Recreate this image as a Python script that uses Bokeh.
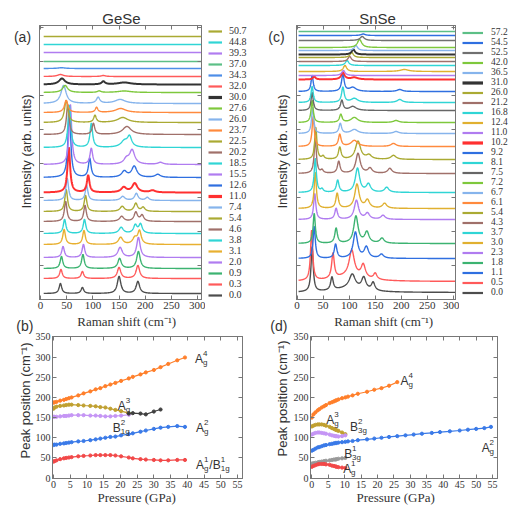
import numpy as np
from bokeh.plotting import figure
from bokeh.layouts import column, row
from bokeh.models import Range1d, Label, Legend, LegendItem, LinearAxis, SingleIntervalTicker
from bokeh.embed import file_html
from bokeh.resources import INLINE

# ======================= DATA =======================
# --- GeSe Raman spectra (bottom -> top), peaks: (position cm-1, height, half-width)
gese_pressure = ["0.0", "0.3", "0.9", "2.0", "3.1", "3.8", "4.6", "5.4", "7.4", "11.0", "12.6", "15.5",
                 "18.5", "20.2", "22.5", "23.7", "26.0", "27.6", "30.0", "32.0", "34.3", "37.0", "39.3",
                 "44.8", "50.7"]
gese_peaks = [
    [(38, 10, 3), (80, 6, 3), (150, 17, 4), (186, 12, 4)],
    [(39, 9, 3), (80, 7, 3), (150, 11, 4), (186, 13, 4)],
    [(40, 12, 3), (81, 14, 3), (151, 10, 4), (187, 17, 4)],
    [(43, 11, 3), (82, 13, 3), (152, 10, 5), (187, 20, 4)],
    [(45, 15, 3), (83, 14, 3), (153, 7, 5), (180, 6, 5), (189, 13, 4)],
    [(46, 14, 3), (84, 14, 3), (154, 6, 5), (181, 8, 4), (191, 9, 4)],
    [(48, 20, 3), (85, 16, 3), (155, 5, 5), (182, 9, 4), (194, 6, 4)],
    [(49, 22, 3), (86, 16, 3), (156, 5, 5), (182, 8, 4), (196, 4, 4)],
    [(51, 22, 3), (88, 15, 3), (157, 4, 5), (183, 7, 4), (204, 3, 4)],
    [(54, 45, 3), (91, 17, 3), (159, 5, 6), (180, 9, 6), (214, 2, 6)],
    [(55, 70, 3), (94, 19, 3), (160, 6, 6), (179, 11, 6), (224, 3, 6)],
    [(57, 60, 3), (97, 16, 3), (164, 5, 6), (175, 14, 6), (229, 2, 6)],
    [(55, 42, 3), (97, 24, 3), (160, 6, 8), (170, 10, 5)],
    [(52, 30, 3), (101, 11, 3), (165, 8, 10)],
    [(49, 22, 4), (104, 7, 3), (157, 5, 12)],
    [(49, 12, 4), (107, 5, 3), (153, 4, 12)],
    [(44, 18, 6), (110, 6, 4), (152, 4, 12)],
    [(47, 7, 6), (112, 1.5, 4), (160, 1.5, 15)],
    [(41, 6, 7), (120, 3, 4), (160, 2, 15)],
    [(38, 2, 7), (120, 1, 5)],
    [(40, 0.8, 8)],
    [], [], [], [],
]

# --- SnSe Raman spectra (bottom -> top)
snse_pressure = ["0.0", "0.5", "1.1", "1.8", "2.3", "3.0", "3.7", "4.3", "5.4", "6.1", "6.7", "7.2", "7.5",
                 "8.1", "9.2", "10.2", "11.0", "12.4", "16.8", "21.2", "26.0", "31.0", "36.5", "42.0",
                 "52.5", "54.5", "57.2"]
snse_peaks = [
    [(29, 45, 2.5), (67, 13, 3), (106, 14, 7), (128, 12, 5), (146, 8, 4), (100, 4, 35)],
    [(28, 50, 2.5), (69, 25, 3), (105, 26, 6), (127, 13, 5), (150, 6, 4), (100, 5, 35)],
    [(33, 32, 2.5), (74, 14, 3), (112, 26, 5), (133, 11, 5), (162, 4, 5)],
    [(33, 30, 2.5), (75, 15, 3), (113, 27, 5), (134, 11, 5), (163, 5, 5)],
    [(34, 26, 2.5), (75, 11, 3), (114, 19, 5), (135, 6, 5), (165, 4, 5)],
    [(35, 36, 2.5), (77, 15, 3), (115, 24, 5), (135, 8, 5), (168, 5, 5)],
    [(35, 34, 2.5), (48, 3, 3), (78, 12, 3), (116, 24, 5), (137, 8, 5), (172, 5, 5)],
    [(35, 35, 2.5), (48, 3, 3), (80, 12, 3), (117, 20, 5), (140, 5, 5), (178, 5, 5)],
    [(36, 32, 2.5), (50, 3, 3), (82, 12, 3), (117, 18, 6), (138, 4, 6), (185, 4, 6)],
    [(31, 30, 2.5), (82, 12, 3), (110, 6, 8), (185, 3, 6)],
    [(30, 26, 2.5), (83, 10, 3), (110, 4, 8), (190, 2, 6)],
    [(29, 22, 2.5), (84, 8, 3), (110, 5, 8), (190, 2, 6)],
    [(29, 18, 2.5), (86, 10, 3), (107, 4, 8)],
    [(29, 16, 2.5), (88, 15, 3), (110, 4, 8), (197, 3, 6)],
    [(29, 16, 2.5), (88, 17, 3), (107, 4, 8), (197, 2, 6)],
    [(33, 3, 3), (88, 7, 4), (110, 2, 8)],
    [(89, 5, 4)],
    [(92, 6, 4), (206, 2, 10)],
    [(96, 5, 4)],
    [(101, 5, 4)],
    [(105, 5, 4)],
    [(108, 5, 4)],
    [(113, 5, 4)],
    [(120, 8, 5)],
    [(125, 4, 5)],
    [(127, 1.5, 5)],
    [],
]

# --- GeSe peak positions vs pressure
ge_P = [0.0, 0.3, 0.9, 2.0, 3.1, 3.8, 4.6, 5.4, 7.4, 9.0, 11.0, 12.6, 14.0, 15.5, 17.0, 18.5, 20.2,
        22.5, 23.7, 26.0, 27.6, 30.0, 32.0, 34.3, 37.0, 39.3]
ge_A4 = [187, 188, 189, 192, 194, 196, 198, 200, 205, 210, 215, 220, 223, 228, 232, 236, 241,
         247, 251, 257, 262, 268, 275, 283, 292, 299]
ge_A2 = [82, 83, 83, 85, 86, 87, 88, 89, 91, 92, 94, 96, 98, 100, 102, 103, 106,
         109, 111, 115, 118, 122, 125, 127, 129, 127]
ge_A1 = [41, 42, 44, 47, 49, 50, 51, 52, 54, 55, 56, 57, 57, 57, 57, 56, 54,
         51, 49, 47, 46, 45, 44, 44, 45, 45]
ge_P_low = [0.0, 0.3, 0.9, 2.0, 3.1, 3.8, 4.6, 5.4, 7.4, 9.0, 11.0, 12.6, 14.0, 15.5, 17.0, 18.5, 20.2, 22.5]
ge_A3 = [172, 175, 177, 179, 180, 181, 182, 182, 181, 180, 179, 178, 176, 175, 172, 169, 166, 161]
ge_B1g2 = [152, 152, 152, 153, 154, 154, 155, 156, 156, 156, 155, 155, 154, 153, 153, 154, 155, 157]
ge_P_hi = [22.5, 23.7, 26.0, 27.6, 30.0, 32.0]
ge_hi = [160, 161, 160, 158, 165, 170]

# --- SnSe peak positions vs pressure
sn_P_low = [0.0, 0.5, 1.1, 1.8, 2.3, 3.0, 3.7, 4.3, 5.4, 6.1, 6.7, 7.2, 7.5, 8.1, 9.2, 10.2]
sn_A3 = [128, 130, 132, 133, 133, 133, 132, 130, 127, 124, 122, 120, 119, 117, 113, 109]
sn_B3g2 = [108, 110, 112, 113, 113, 112, 111, 110, 108, 106, 105, 104, 104, 103, 104, 106]
sn_B3g1 = [36, 37, 38, 39, 40, 41, 42, 43, 44, 45, 46, 46, 47, 48, 49, 50]
sn_A1 = [28, 30, 32, 34, 35, 35, 35, 34, 33, 31, 30, 29, 28, 27, 26, 25]
sn_P_A4 = [0.0, 0.5, 1.1, 1.8, 2.3, 3.0, 3.7, 4.3, 5.4, 6.1, 6.7, 7.2, 7.5, 8.1, 9.2, 10.2, 11.0, 12.4,
           14.0, 16.8, 19.0, 21.2, 23.5, 26.0]
sn_A4 = [150, 158, 163, 168, 171, 175, 178, 181, 186, 188, 190, 192, 193, 195, 198, 200, 202, 205,
         209, 214, 219, 223, 229, 238]
sn_P_A2 = [0.0, 0.5, 1.1, 1.8, 2.3, 3.0, 3.7, 4.3, 5.4, 6.1, 6.7, 7.2, 7.5, 8.1, 9.2, 10.2, 11.0, 12.4,
           14.0, 16.8, 19.0, 21.2, 23.5, 26.0, 28.5, 31.0, 33.5, 36.5, 39.0, 42.0, 45.0, 47.5, 50.0, 52.5, 54.5]
sn_A2 = [68, 70, 73, 76, 77, 79, 81, 82, 84, 85, 86, 87, 87, 88, 89, 90, 91, 92,
         94, 96, 98, 100, 102, 104, 106, 108, 110, 112, 114, 116, 118, 120, 122, 124, 127]

# ======================= STYLE / LAYOUT =======================
SANS = "Liberation Sans"
SERIF = "Liberation Serif"
TXT = "#333333"
AX = "#777777"

gese_offset = [6, 21, 31, 42, 55, 66, 78, 88, 99, 107, 122, 135, 152, 165, 177, 187, 196, 207, 215,
               223, 231, 238, 247, 255, 263]
snse_offset = [7, 18, 41, 56, 80, 91, 107, 126, 140, 153, 166, 177, 189, 197, 208, 220, 224, 228, 234,
               238, 242, 245, 249, 252, 259, 264, 268]
gese_colors = ["#4d4d4d", "#ff5a5a", "#3cb371", "#b07cf0", "#e8b030", "#30d5d5", "#a0706a", "#aaaa33",
               "#86b4ec", "#ff3030", "#2f6fe0", "#b07cf0", "#30d5d5", "#a0706a", "#aaaa33", "#ff8a3d",
               "#86b4ec", "#7ec83c", "#333333", "#ff5a5a", "#4d8ee8", "#5cbf86", "#b07cf0", "#30d5d5",
               "#aaaa33"]
snse_colors = ["#4d4d4d", "#ff5a5a", "#2f6fe0", "#3cb371", "#b07cf0", "#e0b030", "#30d5d5", "#a0706a",
               "#aaaa33", "#ff8a3d", "#86b4ec", "#7ec83c", "#666666", "#30d5d5", "#2f6fe0", "#ff3030",
               "#b07cf0", "#e0b030", "#30d5d5", "#a0706a", "#aaaa33", "#333333", "#86b4ec", "#7ec83c",
               "#707070", "#2f6fe0", "#5cbf86"]
gese_thick = {"11.0", "30.0"}
snse_thick = {"10.2", "31.0"}

# page-pixel geometry (page origin at 0,0): figure origin/size and frame box
GEO = {
    "a": dict(ox=0, oy=0, w=205, h=314, l=39, r=201, t=25, b=299, x0=-2, x1=307.5, y0=0, y1=274),
    "c": dict(ox=262, oy=0, w=197, h=314, l=296, r=455, t=25, b=299, x0=-1, x1=304, y0=0, y1=274),
    "b": dict(ox=0, oy=314, w=258, h=194, l=50, r=242, t=336, b=478, x0=-0.3, x1=56.5, y0=-1, y1=351),
    "d": dict(ox=258, oy=314, w=253, h=194, l=308, r=497, t=336, b=478, x0=-0.4, x1=56.5, y0=-1, y1=351),
}
LEG = {
    "a": dict(ox=205, oy=0, w=57, h=314, top=21, glyph_left=208, glyph_w=14, standoff=7,
              font="10px", line_h=1.117, item_h=10, loc="top_left"),
    "c": dict(ox=459, oy=0, w=52, h=314, top=21, glyph_left=462, glyph_w=21, standoff=8,
              font="9.5px", line_h=1.105, item_h=9, loc="center_left"),
}


def make_fig(g):
    p = figure(width=g["w"], height=g["h"], x_range=Range1d(g["x0"], g["x1"]),
               y_range=Range1d(g["y0"], g["y1"]), output_backend="svg", toolbar_location=None,
               min_border_left=g["l"] - g["ox"], min_border_right=g["w"] - (g["r"] - g["ox"]),
               min_border_top=g["t"] - g["oy"], min_border_bottom=g["h"] - (g["b"] - g["oy"]))
    p.grid.visible = False
    p.outline_line_color = AX
    p.background_fill_color = "white"
    p.border_fill_color = "white"
    return p


def style_axis(ax, size, standoff):
    ax.axis_line_color = AX
    ax.major_tick_line_color = AX
    ax.minor_tick_line_color = AX
    ax.major_tick_in = 4
    ax.major_tick_out = 0
    ax.minor_tick_in = 2
    ax.minor_tick_out = 0
    ax.major_label_standoff = standoff
    ax.major_label_text_font = SERIF
    if size is None:
        ax.major_label_text_font_size = "0px"
        ax.major_label_text_color = None
    else:
        ax.major_label_text_font_size = size
        ax.major_label_text_color = TXT


def setup_axes(p, xtick, ytick, xsize, ysize, xs, ys):
    p.xaxis.ticker = SingleIntervalTicker(interval=xtick[0], num_minor_ticks=xtick[1])
    p.yaxis.ticker = SingleIntervalTicker(interval=ytick[0], num_minor_ticks=ytick[1])
    style_axis(p.xaxis[0], xsize, xs)
    style_axis(p.yaxis[0], ysize, ys)
    top = LinearAxis(ticker=SingleIntervalTicker(interval=xtick[0], num_minor_ticks=xtick[1]))
    right = LinearAxis(ticker=SingleIntervalTicker(interval=ytick[0], num_minor_ticks=ytick[1]))
    style_axis(top, None, 0)
    style_axis(right, None, 0)
    p.add_layout(top, "above")
    p.add_layout(right, "right")


def to_data(g, px, py):
    x = g["x0"] + (px - g["l"]) / (g["r"] - g["l"]) * (g["x1"] - g["x0"])
    y = g["y1"] - (py - g["t"]) / (g["b"] - g["t"]) * (g["y1"] - g["y0"])
    return x, y


def put(p, g, px, py, text, size="12px", font=SANS, align="center", angle=0.0, color=TXT, side=None):
    x, y = to_data(g, px, py)
    lab = Label(x=x, y=y, text=text, text_font=font, text_font_size=size, text_align=align,
                text_baseline="middle", angle=angle, text_color=color)
    if side is None:
        p.add_layout(lab)
    else:
        p.add_layout(lab, side)


CHAR_W = {"A": 8.0, "B": 8.0, "/B": 11.5}


def mode_label(p, g, px, py, parts):
    cur = px
    for base, sub, sup in parts:
        put(p, g, cur, py, base, size="12px", align="left")
        cur += CHAR_W[base]
        put(p, g, cur, py + 4, sub, size="8px", align="left")
        put(p, g, cur, py - 5, sup, size="8px", align="left")
        cur += 4.5 * max(len(sub), len(sup)) + 1


def legend_fig(lg, pressures, colors, thick):
    # a plain strip that only carries the legend (legend sits inside its frame)
    q = figure(width=lg["w"], height=lg["h"], x_range=Range1d(0, 1), y_range=Range1d(0, 1),
               output_backend="svg", toolbar_location=None, x_axis_type=None, y_axis_type=None,
               min_border_left=lg["glyph_left"] - lg["ox"], min_border_right=0,
               min_border_top=lg["top"] - lg["oy"], min_border_bottom=0)
    q.grid.visible = False
    q.outline_line_color = None
    q.border_fill_color = "white"
    items = []
    for lab, c in zip(pressures, colors):
        r = q.line(x=[np.nan], y=[np.nan], line_color=c, line_width=3.2 if lab in thick else 2.2)
        items.append(LegendItem(label=lab, renderers=[r]))
    items = items[::-1]
    legend = Legend(items=items, location=lg["loc"],
                    padding=0, margin=0, spacing=0, border_line_alpha=0, background_fill_alpha=0,
                    label_height=lg["item_h"], glyph_height=lg["item_h"], glyph_width=lg["glyph_w"],
                    label_standoff=lg["standoff"], label_text_font=SERIF,
                    label_text_font_size=lg["font"], label_text_color=TXT,
                    label_text_baseline="middle", label_text_line_height=lg["line_h"])
    q.add_layout(legend)
    return q


def spectra_panel(key, pressures, peaks, offsets, colors, thick, xstart):
    g = GEO[key]
    p = make_fig(g)
    setup_axes(p, (50, 1), (34, 1), "11px", None, 2, 0)
    x = np.linspace(xstart, g["x1"], 700)
    for lab, pk, off, c in zip(pressures, peaks, offsets, colors):
        y = np.full_like(x, float(off))
        for pos, h, w in pk:
            y += h * w ** 2 / ((x - pos) ** 2 + w ** 2)
        p.line(x, y, line_color=c, line_width=2.0 if lab in thick else 1.4)
    return p, g


# ---------- (a) GeSe spectra ----------
pa, ga = spectra_panel("a", gese_pressure, gese_peaks, gese_offset, gese_colors, gese_thick, 6)
la = legend_fig(LEG["a"], gese_pressure, gese_colors, gese_thick)
put(pa, ga, 121, 18, "GeSe", size="15px", side="above")
put(pa, ga, 22, 36, "(a)", size="14px", side="left")
put(pa, ga, 26, 151, "Intensity (arb. units)", size="13px", angle=np.pi / 2, side="left")

# ---------- (c) SnSe spectra ----------
pc, gc = spectra_panel("c", snse_pressure, snse_peaks, snse_offset, snse_colors, snse_thick, 3)
lc = legend_fig(LEG["c"], snse_pressure, snse_colors, snse_thick)
put(pc, gc, 377, 18, "SnSe", size="15px", side="above")
put(pc, gc, 276, 36, "(c)", size="14px", side="left")
put(pc, gc, 282, 151, "Intensity (arb. units)", size="13px", angle=np.pi / 2, side="left")


def series(p, P, V, c):
    p.line(P, V, line_color=c, line_width=1.2)
    p.scatter(P, V, marker="circle", size=3.2, fill_color=c, line_color=c)


# ---------- (b) GeSe peak positions ----------
gb = GEO["b"]
pb = make_fig(gb)
setup_axes(pb, (5, 0), (50, 0), "10px", "10px", 2, 2)
series(pb, ge_P, ge_A4, "#ff7f2a")
series(pb, ge_P_low, ge_B1g2, "#c595f5")
series(pb, ge_P_low, ge_A3, "#c0a030")
series(pb, ge_P_hi, ge_hi, "#404040")
series(pb, ge_P, ge_A2, "#3a7ae8")
series(pb, ge_P, ge_A1, "#f24848")
put(pb, gb, 125, 321, "Raman shift (cm\u207b\u00b9)", size="13px", font=SERIF, side="above")
put(pb, gb, 22, 325, "(b)", size="14px", side="left")
put(pb, gb, 23, 400, "Peak position (cm\u207b\u00b9)", size="13px", angle=np.pi / 2, side="left")
put(pb, gb, 135, 497, "Pressure (GPa)", size="13px", font=SERIF, side="below")
mode_label(pb, gb, 194, 358, [("A", "g", "4")])
mode_label(pb, gb, 116, 405, [("A", "g", "3")])
mode_label(pb, gb, 111, 427, [("B", "1g", "2")])
mode_label(pb, gb, 195, 427, [("A", "g", "2")])
mode_label(pb, gb, 195, 464, [("A", "g", "1"), ("/B", "1g", "1")])

# ---------- (d) SnSe peak positions ----------
gd = GEO["d"]
pd_ = make_fig(gd)
setup_axes(pd_, (5, 0), (50, 0), "10px", "10px", 2, 2)
series(pd_, sn_P_A4, sn_A4, "#ff7f2a")
series(pd_, sn_P_low, sn_A3, "#c0a030")
series(pd_, sn_P_low, sn_B3g2, "#c595f5")
series(pd_, sn_P_A2, sn_A2, "#3a7ae8")
series(pd_, sn_P_low, sn_B3g1, "#999999")
series(pd_, sn_P_low, sn_A1, "#f24848")
put(pd_, gd, 382, 321, "Raman shift (cm\u207b\u00b9)", size="13px", font=SERIF, side="above")
put(pd_, gd, 276, 325, "(d)", size="14px", side="left")
put(pd_, gd, 280, 398, "Peak position (cm\u207b\u00b9)", size="13px", angle=np.pi / 2, side="left")
put(pd_, gd, 394, 497, "Pressure (GPa)", size="13px", font=SERIF, side="below")
mode_label(pd_, gd, 399, 380, [("A", "g", "4")])
mode_label(pd_, gd, 324, 419, [("A", "g", "3")])
mode_label(pd_, gd, 348, 426, [("B", "3g", "2")])
mode_label(pd_, gd, 481, 447, [("A", "g", "2")])
mode_label(pd_, gd, 342, 453, [("B", "3g", "1")])
mode_label(pd_, gd, 341, 468, [("A", "g", "1")])

layout = column(row(pa, la, pc, lc), row(pb, pd_))
open("out.html", "w").write(file_html(layout, INLINE))
